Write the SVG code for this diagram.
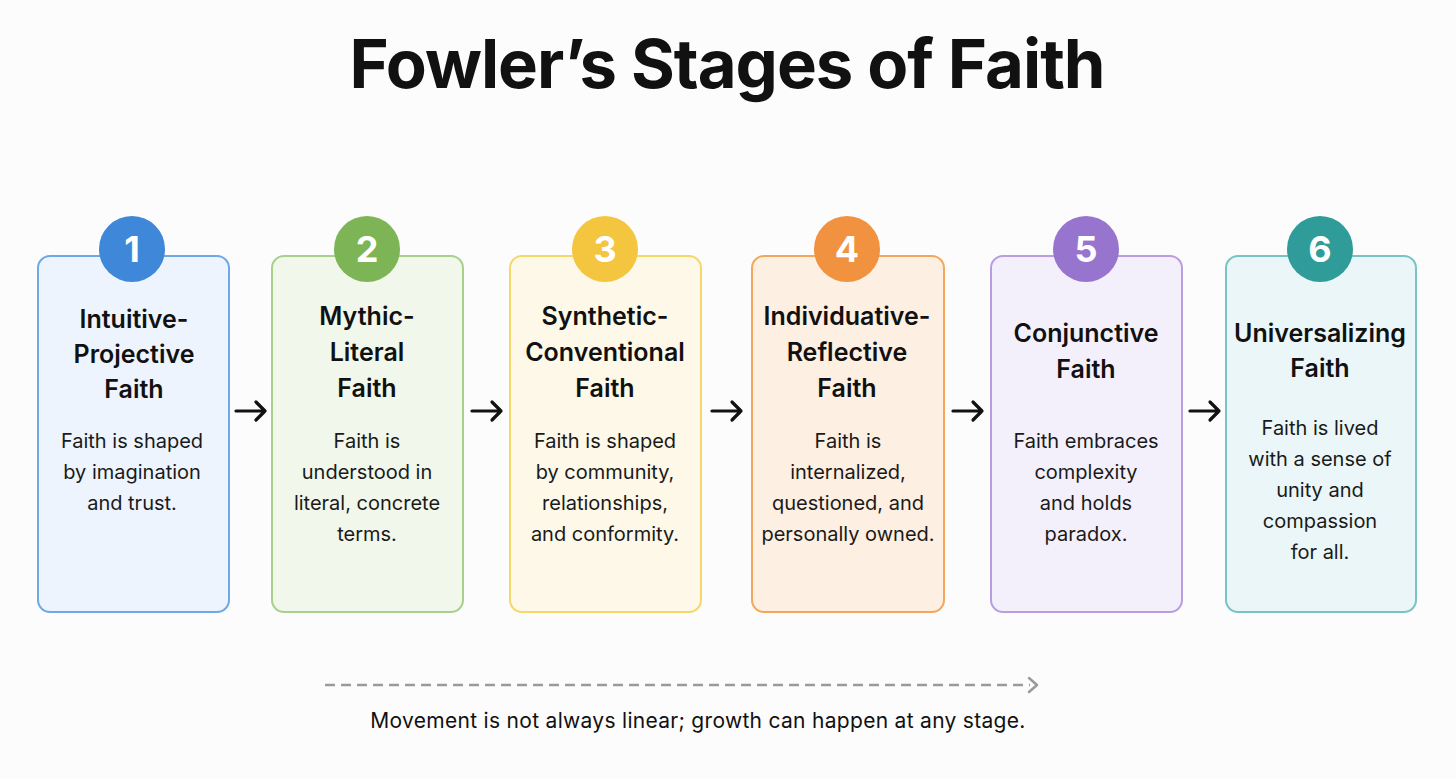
<svg xmlns="http://www.w3.org/2000/svg" width="1456" height="779" viewBox="0 0 1456 779">
<defs>
<style>
.title{font-family:Inter,"Liberation Sans",sans-serif;font-weight:700;font-size:67px;letter-spacing:-1px;fill:#111;text-anchor:middle}
.ct{font-family:Inter,"Liberation Sans",sans-serif;font-weight:600;font-size:25px;fill:#111;text-anchor:middle}
.cb{font-family:Inter,"Liberation Sans",sans-serif;font-weight:400;font-size:20px;fill:#1a1a1a;text-anchor:middle}
.num{font-family:Inter,"Liberation Sans",sans-serif;font-weight:700;font-size:36px;fill:#fff;text-anchor:middle}
.note{font-family:Inter,"Liberation Sans",sans-serif;font-weight:400;font-size:21px;letter-spacing:0.3px;fill:#111;text-anchor:middle}
.card{stroke-width:2}
.arr{stroke:#111;stroke-width:3.2;fill:none;stroke-linecap:round;stroke-linejoin:round}
</style>
</defs>
<rect width="1456" height="779" fill="#fcfcfc"/>
<text class="title" x="727" y="88">Fowler’s Stages of Faith</text>

<g id="stage1">
<rect class="card" x="38" y="256" width="191" height="356" rx="12" fill="#edf4fd" stroke="#6ea8e6"/>
<circle cx="132" cy="249" r="33" fill="#3f87d9"/>
<text class="num" x="132" y="262">1</text>
<text class="ct" x="134" y="328">Intuitive-</text>
<text class="ct" x="134" y="363">Projective</text>
<text class="ct" x="134" y="398">Faith</text>
<text class="cb" x="132" y="448">Faith is shaped</text>
<text class="cb" x="132" y="479">by imagination</text>
<text class="cb" x="132" y="510">and trust.</text>
</g>

<g id="stage2">
<rect class="card" x="272" y="256" width="191" height="356" rx="12" fill="#f1f7eb" stroke="#a8d08c"/>
<circle cx="367" cy="249" r="33" fill="#7db456"/>
<text class="num" x="367" y="262">2</text>
<text class="ct" x="367" y="325">Mythic-</text>
<text class="ct" x="367" y="361">Literal</text>
<text class="ct" x="367" y="397">Faith</text>
<text class="cb" x="367" y="448">Faith is</text>
<text class="cb" x="367" y="479">understood in</text>
<text class="cb" x="367" y="510">literal, concrete</text>
<text class="cb" x="367" y="541">terms.</text>
</g>

<g id="stage3">
<rect class="card" x="510" y="256" width="191" height="356" rx="12" fill="#fdf8e8" stroke="#f5d76a"/>
<circle cx="605" cy="249" r="33" fill="#f4c640"/>
<text class="num" x="605" y="262">3</text>
<text class="ct" x="605" y="325">Synthetic-</text>
<text class="ct" x="605" y="361">Conventional</text>
<text class="ct" x="605" y="397">Faith</text>
<text class="cb" x="605" y="448">Faith is shaped</text>
<text class="cb" x="605" y="479">by community,</text>
<text class="cb" x="605" y="510">relationships,</text>
<text class="cb" x="605" y="541">and conformity.</text>
</g>

<g id="stage4">
<rect class="card" x="752" y="256" width="192" height="356" rx="12" fill="#fdefe2" stroke="#f2a75c"/>
<circle cx="847" cy="249" r="33" fill="#f0923f"/>
<text class="num" x="847" y="262">4</text>
<text class="ct" x="847" y="325">Individuative-</text>
<text class="ct" x="847" y="361">Reflective</text>
<text class="ct" x="847" y="397">Faith</text>
<text class="cb" x="848" y="448">Faith is</text>
<text class="cb" x="848" y="479">internalized,</text>
<text class="cb" x="848" y="510">questioned, and</text>
<text class="cb" x="848" y="541">personally owned.</text>
</g>

<g id="stage5">
<rect class="card" x="991" y="256" width="191" height="356" rx="12" fill="#f4f0fb" stroke="#b99de0"/>
<circle cx="1086" cy="249" r="33" fill="#9775cf"/>
<text class="num" x="1086" y="262">5</text>
<text class="ct" x="1086" y="342">Conjunctive</text>
<text class="ct" x="1086" y="378">Faith</text>
<text class="cb" x="1086" y="448">Faith embraces</text>
<text class="cb" x="1086" y="479">complexity</text>
<text class="cb" x="1086" y="510">and holds</text>
<text class="cb" x="1086" y="541">paradox.</text>
</g>

<g id="stage6">
<rect class="card" x="1226" y="256" width="190" height="356" rx="12" fill="#eaf6f7" stroke="#78c3c4"/>
<circle cx="1320" cy="249" r="33" fill="#2f9c99"/>
<text class="num" x="1320" y="262">6</text>
<text class="ct" x="1320" y="342">Universalizing</text>
<text class="ct" x="1320" y="377">Faith</text>
<text class="cb" x="1320" y="435">Faith is lived</text>
<text class="cb" x="1320" y="466">with a sense of</text>
<text class="cb" x="1320" y="497">unity and</text>
<text class="cb" x="1320" y="528">compassion</text>
<text class="cb" x="1320" y="559">for all.</text>
</g>

<g id="connectors">
<path class="arr" d="M236 411 H265 M256 402 L265 411 L256 420"/>
<path class="arr" d="M472 411 H501 M492 402 L501 411 L492 420"/>
<path class="arr" d="M712 411 H741 M732 402 L741 411 L732 420"/>
<path class="arr" d="M953 411 H982 M973 402 L982 411 L973 420"/>
<path class="arr" d="M1190 411 H1219 M1210 402 L1219 411 L1210 420"/>
<path d="M325 685 H1030" stroke="#9a9a9a" stroke-width="2.5" stroke-dasharray="10 6" fill="none"/>
<path d="M1029 678 L1037 685 L1029 692" stroke="#9a9a9a" stroke-width="2.5" fill="none" stroke-linecap="round" stroke-linejoin="round"/>
</g>
<text class="note" x="698" y="728">Movement is not always linear; growth can happen at any stage.</text>
</svg>
